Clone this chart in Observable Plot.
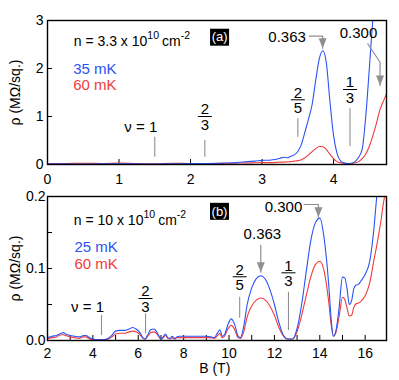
<!DOCTYPE html>
<html><head><meta charset="utf-8">
<script src="https://cdn.jsdelivr.net/npm/d3@7"></script>
<script src="https://cdn.jsdelivr.net/npm/@observablehq/plot@0.6"></script>
<style>
html,body{margin:0;padding:0;background:#fff;overflow:hidden;}
#chart{position:relative;width:399px;height:380px;}
#chart svg{display:block;}
</style></head><body><div id="chart"></div>
<script>
// ---------- Panel (a): n = 3.3e10 cm^-2 ----------
const topB = [0, 0.25, 0.5, 0.75, 1.0, 1.25, 1.5, 1.75, 2.0, 2.25,
  2.5, 2.65, 2.8, 2.9, 3.0, 3.1, 3.2, 3.25, 3.3, 3.35,
  3.4, 3.45, 3.5, 3.55, 3.6, 3.65, 3.7, 3.75, 3.8, 3.85,
  3.9, 3.95, 4.0, 4.05, 4.1, 4.15, 4.2, 4.25, 4.3, 4.35,
  4.4, 4.45, 4.5, 4.55, 4.6, 4.65, 4.7, 4.74];
const rho35 = [0.01, 0.012, 0.01, 0.012, 0.015, 0.012, 0.01, 0.015, 0.018, 0.02,
  0.03, 0.04, 0.06, 0.07, 0.085, 0.09, 0.11, 0.13, 0.15, 0.14,
  0.17, 0.2, 0.27, 0.42, 0.68, 0.95, 1.25, 1.75, 2.2, 2.37,
  2.1, 1.3, 0.6, 0.22, 0.07, 0.03, 0.02, 0.025, 0.06, 0.15,
  0.32, 1.0, 2.0, 3.05, 3.9, null, null, null];
const rho60a = [0.02, 0.02, 0.025, 0.02, 0.03, 0.02, 0.015, 0.025, 0.02, 0.02,
  0.025, 0.03, 0.03, 0.035, 0.04, 0.04, 0.045, 0.05, 0.05, 0.055,
  0.06, 0.07, 0.08, 0.1, 0.14, 0.2, 0.27, 0.33, 0.375, 0.37,
  0.31, 0.21, 0.12, 0.06, 0.035, 0.025, 0.02, 0.022, 0.035, 0.06,
  0.12, 0.22, 0.38, 0.6, 0.86, 1.15, 1.33, 1.47];
const topFracLabels = ["ν = 1", "2/3", "2/5", "1/3"];
const topFracB = [1.5, 2.2, 3.5, 4.23];
const topPeakLabels = ["0.363", "0.300"];
const topTempLabels = ["35 mK", "60 mK"];

// ---------- Panel (b): n = 10e10 cm^-2 ----------
const botB = [2.0, 2.2, 2.4, 2.6, 2.7, 2.8, 3.0, 3.2, 3.4, 3.6,
  3.7, 3.8, 4.0, 4.2, 4.4, 4.6, 4.8, 5.0, 5.2, 5.4,
  5.6, 5.75, 5.9, 6.05, 6.2, 6.3, 6.4, 6.55, 6.7, 6.85,
  7.0, 7.1, 7.2, 7.3, 7.4, 7.5, 7.6, 7.7, 7.8, 8.0,
  8.5, 9.0, 9.2, 9.35, 9.5, 9.6, 9.7, 9.8, 9.95, 10.1,
  10.25, 10.4, 10.5, 10.65, 10.8, 11.0, 11.2, 11.4, 11.6, 11.8,
  12.0, 12.2, 12.4, 12.6, 12.8, 13.0, 13.2, 13.4, 13.6, 13.8,
  14.0, 14.2, 14.4, 14.5, 14.6, 14.7, 14.85, 15.0, 15.1, 15.2,
  15.3, 15.4, 15.5, 15.6, 15.7, 15.8, 16.0, 16.2, 16.4, 16.5,
  16.6, 16.7, 16.8, 16.94];
const rho25 = [0.004, 0.006, 0.007, 0.010, 0.011, 0.009, 0.007, 0.006, 0.005, 0.007,
  0.007, 0.005, 0.002, 0.001, 0.001, 0.002, 0.006, 0.013, 0.014, 0.014,
  0.016, 0.018, 0.016, 0.012, 0.004, 0.002, 0.007, 0.015, 0.016, 0.010,
  0.002, 0.005, 0.009, 0.004, 0.003, 0.006, 0.003, 0.005, 0.006, 0.006,
  0.006, 0.006, 0.005, 0.004, 0.011, 0.015, 0.006, 0.008, 0.022, 0.030,
  0.022, 0.006, 0.004, 0.020, 0.050, 0.073, 0.086, 0.090, 0.085, 0.071,
  0.050, 0.025, 0.007, 0.002, 0.002, 0.017, 0.050, 0.095, 0.138, 0.163,
  0.170, 0.140, 0.075, 0.030, 0.006, 0.012, 0.045, 0.088, 0.087, 0.072,
  0.050, 0.055, 0.072, 0.077, 0.078, 0.082, 0.092, 0.110, 0.160, 0.197,
  0.235, null, null, null];
const rho60b = [0.002, 0.004, 0.005, 0.008, 0.008, 0.007, 0.005, 0.004, 0.003, 0.005,
  0.005, 0.003, 0.001, 0.001, 0.001, 0.001, 0.004, 0.009, 0.010, 0.010,
  0.012, 0.013, 0.012, 0.009, 0.003, 0.002, 0.005, 0.011, 0.012, 0.008,
  0.002, 0.004, 0.007, 0.003, 0.002, 0.004, 0.002, 0.004, 0.004, 0.004,
  0.004, 0.004, 0.004, 0.003, 0.007, 0.010, 0.004, 0.006, 0.016, 0.021,
  0.015, 0.004, 0.003, 0.012, 0.033, 0.048, 0.056, 0.059, 0.056, 0.048,
  0.035, 0.018, 0.006, 0.002, 0.002, 0.012, 0.035, 0.062, 0.088, 0.105,
  0.110, 0.095, 0.052, 0.022, 0.006, 0.010, 0.033, 0.060, 0.057, 0.045,
  0.034, 0.035, 0.046, 0.051, 0.052, 0.054, 0.062, 0.080, 0.114, 0.130,
  0.148, 0.167, 0.190, 0.212];
const botFracLabels = ["ν = 1", "2/3", "2/5", "1/3"];
const botFracB = [4.38, 6.32, 10.47, 12.62];
const botPeakLabels = ["0.363", "0.300"];
const botTempLabels = ["25 mK", "60 mK"];

const topXTicks = [0, 1, 2, 3, 4];
const topYTicks = [0, 1, 2, 3];
const botXTicks = [2, 3, 4, 5, 6, 7, 8, 9, 10, 11, 12, 13, 14, 15, 16];
const botYTicks = [0, 0.05, 0.1, 0.15, 0.2];

// ---------- styling ----------
const BLUE = "#2a52f5", RED = "#f23b3b", GRAY = "#8f8f8f";
const FONT = "'Liberation Sans', Arial, Helvetica, sans-serif";
const barSym = {draw(ctx) { ctx.moveTo(-7, 0); ctx.lineTo(7, 0); }};
const headSym = {draw(ctx) { ctx.moveTo(-4, -10); ctx.lineTo(4, -10); ctx.lineTo(0, 0); ctx.closePath(); }};
const boxSym = {draw(ctx) { ctx.rect(-9.5, -8.5, 19, 17); }};

function fractionMarks(labels, Bs, layout) {
  const rows = labels.map((t, i) => ({t, B: Bs[i], ...layout[i]}));
  const fr = rows.filter(d => d.t.includes("/"));
  const nu = rows.filter(d => !d.t.includes("/"));
  return [
    Plot.ruleX(rows, {x: "B", y1: "y1", y2: "y2", stroke: GRAY, strokeWidth: 1.1}),
    Plot.text(fr, {x: "B", y: "c", text: d => d.t.split("/")[0], dy: -7, fontSize: 15}),
    Plot.text(fr, {x: "B", y: "c", text: d => d.t.split("/")[1], dy: 8.5, fontSize: 15}),
    Plot.dot(fr, {x: "B", y: "c", symbol: barSym, stroke: "black", fill: "none", strokeWidth: 1}),
    Plot.text(nu, {x: "B", y: "c", text: "t", textAnchor: "end", dx: 2.5, fontSize: 15})
  ];
}
function arrowMarks(label, textPos, anchor, pts) {
  const tip = pts[pts.length - 1];
  return [
    Plot.line(pts, {x: d => d[0], y: d => d[1], stroke: GRAY, strokeWidth: 1.2}),
    Plot.dot([tip], {x: d => d[0], y: d => d[1], symbol: headSym, fill: GRAY, stroke: "none"}),
    Plot.text([label], {x: () => textPos[0], y: () => textPos[1], text: d => d, textAnchor: anchor, fontSize: 15})
  ];
}
function panelTag(tag, pos) {
  return [
    Plot.dot([tag], {x: () => pos[0], y: () => pos[1], symbol: boxSym, fill: "black", stroke: "none"}),
    Plot.text([tag], {x: () => pos[0], y: () => pos[1], text: d => d, fill: "white", fontSize: 13})
  ];
}
function sciLabel(plot, B, rho, pre, e1, unit, e2) {
  const sx = plot.scale("x"), sy = plot.scale("y");
  const t = d3.select(plot).append("text")
    .attr("x", sx.apply(B)).attr("y", sy.apply(rho))
    .attr("text-anchor", "start")
    .attr("font-size", 14).attr("fill", "black").attr("font-family", FONT);
  t.append("tspan").text(pre);
  t.append("tspan").attr("dy", -7).attr("font-size", 10.5).text(e1);
  t.append("tspan").attr("dy", 7).attr("dx", 3).text(unit);
  t.append("tspan").attr("dy", -7).attr("font-size", 10.5).text(e2);
}

// ---------- panel (a) ----------
const rowsA = topB.map((b, i) => ({B: b, lo: rho35[i], hi: rho60a[i]}));
const plotA = Plot.plot({
  width: 399, height: 190, marginLeft: 47, marginRight: 13, marginTop: 20, marginBottom: 26,
  style: {fontFamily: FONT, fontSize: "14px", color: "black", background: "white", overflow: "visible"},
  x: {domain: [0, 4.74], ticks: topXTicks, tickSize: -5, tickPadding: 15, tickFormat: d => String(d), label: null},
  y: {domain: [0, 3], ticks: topYTicks, tickSize: -5, tickPadding: 9, tickFormat: d => String(d), label: null},
  marks: [
    Plot.line(rowsA, {x: "B", y: "hi", stroke: RED, strokeWidth: 1.1, curve: "monotone-x", clip: true}),
    Plot.line(rowsA, {x: "B", y: "lo", stroke: BLUE, strokeWidth: 1.1, curve: "monotone-x", clip: true}),
    ...fractionMarks(topFracLabels, topFracB, [
      {c: 0.777, y1: 0.569, y2: 0.152},
      {c: 1.0, y1: 0.5, y2: 0.152},
      {c: 1.348, y1: 0.952, y2: 0.569},
      {c: 1.5625, y1: 1.16, y2: 0.375}]),
    ...arrowMarks(topPeakLabels[0], [3.613, 2.66], "end", [[3.66, 2.673], [3.847, 2.673], [3.847, 2.42]]),
    ...arrowMarks(topPeakLabels[1], [4.349, 2.74], "middle", [[4.478, 2.515], [4.65, 2.13], [4.65, 1.646]]),
    ...panelTag("(a)", [2.406, 2.652]),
    Plot.text(topTempLabels, {x: () => 0.36, y: (d, i) => [1.89, 1.542][i], text: d => d,
      fill: (d, i) => [BLUE, RED][i], textAnchor: "start", lineAnchor: "bottom", fontSize: 15}),
    Plot.text(["ρ (MΩ/sq.)"], {frameAnchor: "left", rotate: -90, dx: -28, textAnchor: "middle", lineAnchor: "bottom", text: d => d, fontSize: 14}),
    Plot.frame({stroke: "black", strokeWidth: 1.4})
  ]
});
sciLabel(plotA, 0.374, 2.458, "n = 3.3 x 10", "10", "cm", "-2");

// ---------- panel (b) ----------
const rowsB = botB.map((b, i) => ({B: b, lo: rho25[i], hi: rho60b[i]}));
const plotB = Plot.plot({
  width: 399, height: 190, marginLeft: 47, marginRight: 13, marginTop: 6, marginBottom: 40,
  style: {fontFamily: FONT, fontSize: "14px", color: "black", background: "white", overflow: "visible"},
  x: {domain: [2, 16.94], ticks: botXTicks, tickSize: -5, tickPadding: 13, tickFormat: d => d % 2 === 0 ? String(d) : "", label: null},
  y: {domain: [0, 0.2], ticks: botYTicks, tickSize: -5, tickPadding: 7, tickFormat: d => [0, 0.1, 0.2].some(v => Math.abs(v - d) < 1e-9) ? d.toFixed(1) : "", label: null},
  marks: [
    Plot.line(rowsB, {x: "B", y: "hi", stroke: RED, strokeWidth: 1.1, curve: "monotone-x", clip: true}),
    Plot.line(rowsB, {x: "B", y: "lo", stroke: BLUE, strokeWidth: 1.1, curve: "monotone-x", clip: true}),
    ...fractionMarks(botFracLabels, botFracB, [
      {c: 0.0463, y1: 0.0347, y2: 0.0069},
      {c: 0.0583, y1: 0.037, y2: 0.0093},
      {c: 0.0885, y1: 0.060, y2: 0.031},
      {c: 0.094, y1: 0.067, y2: 0.0139}]),
    ...arrowMarks(botPeakLabels[0], [11.47, 0.1475], "middle", [[11.4, 0.132], [11.4, 0.0949]]),
    ...arrowMarks(botPeakLabels[1], [13.23, 0.185], "end", [[13.31, 0.1889], [13.94, 0.1889], [13.94, 0.1713]]),
    ...panelTag("(b)", [9.58, 0.1794]),
    Plot.text(botTempLabels, {x: () => 3.19, y: (d, i) => [0.1226, 0.0996][i], text: d => d,
      fill: (d, i) => [BLUE, RED][i], textAnchor: "start", lineAnchor: "bottom", fontSize: 15}),
    Plot.text(["ρ (MΩ/sq.)"], {frameAnchor: "left", rotate: -90, dx: -28, textAnchor: "middle", lineAnchor: "bottom", text: d => d, fontSize: 14}),
    Plot.text(["B (T)"], {x: () => 9.37, frameAnchor: "bottom", dy: 32, lineAnchor: "bottom", text: d => d, fontSize: 14}),
    Plot.frame({stroke: "black", strokeWidth: 1.4})
  ]
});
sciLabel(plotB, 3.18, 0.1597, "n = 10 x 10", "10", "cm", "-2");

document.getElementById("chart").append(plotA, plotB);
</script>
</body></html>
